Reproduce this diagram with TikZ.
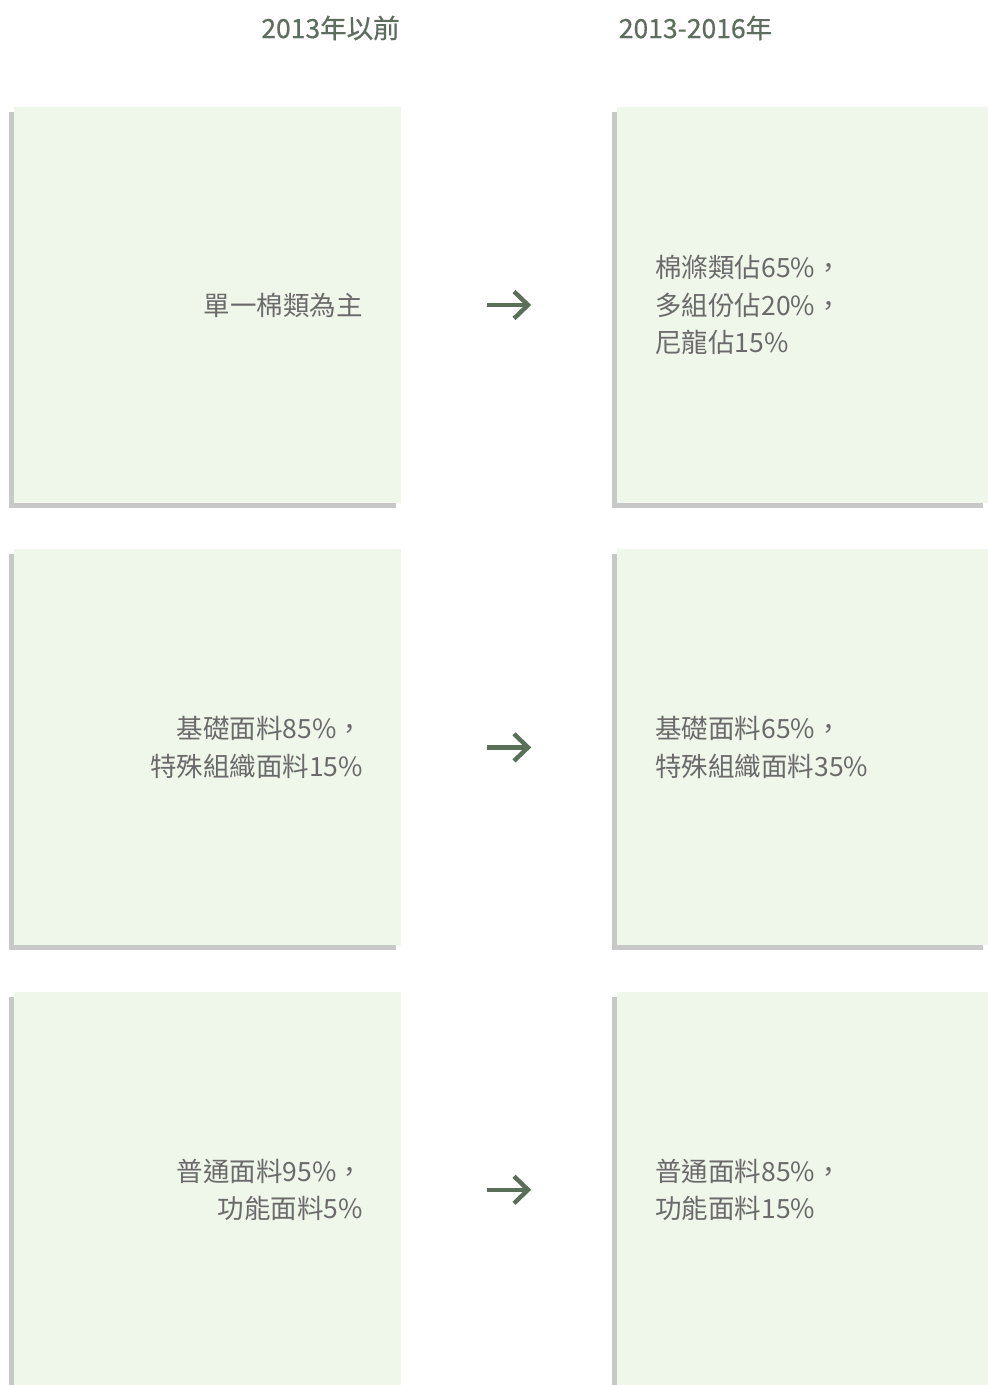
\documentclass[tikz,border=0pt]{standalone}
\usepackage{fontspec}
\setmainfont{Noto Sans CJK TC}
\newfontfamily\headfont[FakeBold=0.6]{Noto Sans CJK TC}
\usetikzlibrary{positioning,shadows,arrows.meta}
\definecolor{boxgreen}{HTML}{EFF6EA}
\definecolor{shadowgray}{HTML}{C8C8C8}
\definecolor{bodygray}{HTML}{6A6A6A}
\definecolor{headgreen}{HTML}{5E6E5E}
\definecolor{arrowgreen}{HTML}{5A6F58}

\begin{document}
\begin{tikzpicture}[x=1pt,y=-1pt,node distance=46pt,
    box/.style={fill=boxgreen,minimum height=396pt,inner xsep=38pt,inner ysep=0pt,
      text=bodygray,font=\fontsize{26.5}{37.5}\selectfont,
      drop shadow={shadow xshift=-5pt,shadow yshift=-5pt,fill=shadowgray,opacity=1}},
    lbox/.style={box,text width=311pt,align=right},
    rbox/.style={box,text width=295pt,align=left},
    head/.style={text=headgreen,font=\headfont\fontsize{26.5}{30}\selectfont},
    trend/.style={arrowgreen,line width=4.4pt,-{Straight Barb[length=14pt,width=27pt]}}]
        \useasboundingbox[fill=white] (0,0) rectangle (988,1385);
        \node[head] (h1) at (330.5,28) {2013年以前};
        \node[head] (h2) at (695.5,28) {2013-2016年};
        \node[lbox] (l1) at (207.5,305) {單一棉類為主};
        \node[lbox] (l2) [below=of l1] {基礎面料85\%，\\特殊組織面料15\%};
        \node[lbox] (l3) [below=of l2] {普通面料95\%，\\功能面料5\%};
        \node[rbox] (r1) [right=216pt of l1] {棉滌類佔65\%，\\多組份佔20\%，\\尼龍佔15\%};
        \node[rbox] (r2) [right=216pt of l2] {基礎面料65\%，\\特殊組織面料35\%};
        \node[rbox] (r3) [right=216pt of l3] {普通面料85\%，\\功能面料15\%};
        \foreach \i in {1,2,3} {
            \coordinate[right=86pt of l\i] (a\i s);
            \coordinate[left=86pt of r\i] (a\i e);
            \draw[trend] (a\i s) -- (a\i e);
        }
    \end{tikzpicture}
\end{document}
